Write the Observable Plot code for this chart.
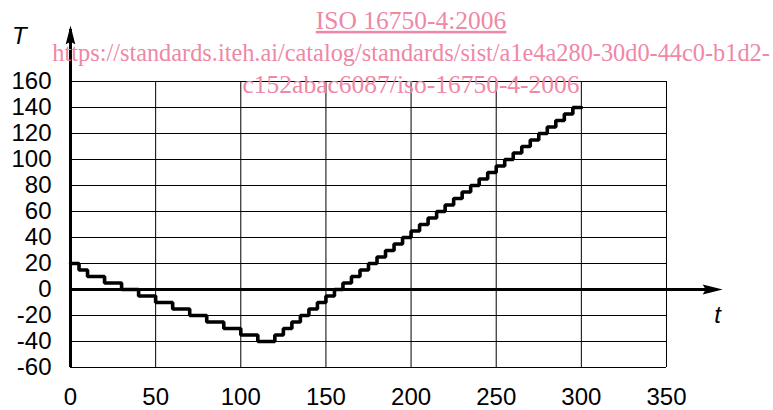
<!DOCTYPE html>
<html>
<head>
<meta charset="utf-8">
<script src="https://cdn.jsdelivr.net/npm/d3@7"></script>
<script src="https://cdn.jsdelivr.net/npm/@observablehq/plot@0.6"></script>
<style>
  html, body { margin: 0; padding: 0; background: #fff; }
  #chart { width: 773px; height: 410px; }
</style>
</head>
<body>
<div id="chart"></div>
<script>
// ---- data ----
const stepTimes = [0, 5, 10, 20, 30, 40, 50, 60, 70, 80, 90, 100, 110, 120, 125, 130, 135, 140, 145, 150, 155, 160, 165, 170, 175, 180, 185, 190, 195, 200, 205, 210, 215, 220, 225, 230, 235, 240, 245, 250, 255, 260, 265, 270, 275, 280, 285, 290, 295, 300];
const stepTemps = [20, 15, 10, 5, 0, -5, -10, -15, -20, -25, -30, -35, -40, -35, -30, -25, -20, -15, -10, -5, 0, 5, 10, 15, 20, 25, 30, 35, 40, 45, 50, 55, 60, 65, 70, 75, 80, 85, 90, 95, 100, 105, 110, 115, 120, 125, 130, 135, 140, 140];

const xTicks = [0, 50, 100, 150, 200, 250, 300, 350];
const yTicks = [-60, -40, -20, 0, 20, 40, 60, 80, 100, 120, 140, 160];

const xAxisEnd = 383;   // tip of the t-axis arrow (data units)
const yAxisEnd = 203;   // tip of the T-axis arrow (data units)

const axisNames = ["T", "t"];
const axisNameX = [-30, 380];
const axisNameY = [189, -26];

const watermarkLines = [
  "ISO 16750-4:2006",
  "https://standards.iteh.ai/catalog/standards/sist/a1e4a280-30d0-44c0-b1d2-",
  "c152abac6087/iso-16750-4-2006"
];
const watermarkX = [200, 200, 200];
const watermarkY = [200.5, 176, 151.5];

// ---- build tables ----
const steps = stepTimes.map((t, i) => ({t, T: stepTemps[i]}));
const names = axisNames.map((s, i) => ({s, x: axisNameX[i], y: axisNameY[i]}));
const marks = watermarkLines.map((s, i) => ({s, x: watermarkX[i], y: watermarkY[i]}));

// arrowhead symbols (tip at origin)
const arrowUp = {
  draw(ctx) {
    ctx.moveTo(0, 0);
    ctx.lineTo(-4.8, 19);
    ctx.lineTo(0, 16);
    ctx.lineTo(4.8, 19);
    ctx.closePath();
  }
};
const arrowRight = {
  draw(ctx) {
    ctx.moveTo(0, 0);
    ctx.lineTo(-20, -5);
    ctx.lineTo(-17, 0);
    ctx.lineTo(-20, 5);
    ctx.closePath();
  }
};

const sans = "'Liberation Sans', Arial, Helvetica, sans-serif";

const chart = Plot.plot({
  width: 773,
  height: 410,
  marginLeft: 70,
  marginRight: 107,
  marginTop: 81,
  marginBottom: 43,
  style: {fontFamily: sans, background: "white", color: "black", overflow: "visible"},
  x: {domain: [0, 350]},
  y: {domain: [-60, 160]},
  marks: [
    Plot.gridX(xTicks, {stroke: "black", strokeOpacity: 1, strokeWidth: 1}),
    Plot.gridY(yTicks, {stroke: "black", strokeOpacity: 1, strokeWidth: 1}),
    Plot.axisX(xTicks, {tickSize: 0, tickPadding: 20, fontSize: 24, label: null, tickFormat: d => String(d)}),
    Plot.axisY(yTicks, {tickSize: 0, tickPadding: 19, fontSize: 24, label: null, tickFormat: d => String(d)}),
    Plot.ruleY([0], {x1: 0, x2: xAxisEnd - 3, stroke: "black", strokeWidth: 3}),
    Plot.ruleX([0], {y1: -60, y2: yAxisEnd - 3, stroke: "black", strokeWidth: 3}),
    Plot.dot([{x: 0, y: yAxisEnd}], {x: "x", y: "y", symbol: arrowUp, fill: "black", stroke: "none"}),
    Plot.dot([{x: xAxisEnd, y: 0}], {x: "x", y: "y", symbol: arrowRight, fill: "black", stroke: "none"}),
    Plot.line(steps, {x: "t", y: "T", curve: "step-after", stroke: "black", strokeWidth: 3.6, strokeLinejoin: "miter"}),
    Plot.text(names, {x: "x", y: "y", text: "s", fontSize: 24, fontStyle: "italic", fill: "black", lineAnchor: "bottom", fontFamily: sans}),
    Plot.text(marks, {x: "x", y: "y", text: "s", fontSize: 25.5, fill: "#ef87a6", lineAnchor: "bottom", fontFamily: "'Liberation Serif', 'Times New Roman', serif"})
  ]
});

document.getElementById("chart").appendChild(chart);

const wm = d3.select(chart).selectAll("text");
wm.filter(function() { return this.textContent === watermarkLines[0]; })
  .style("text-decoration", "underline");
wm.filter(function() { return this.textContent === watermarkLines[1]; })
  .each(function() {
    const L = this.getComputedTextLength();
    if (L > 0) d3.select(this).attr("font-size", (25.5 * 718 / L).toFixed(2));
  });
</script>
</body>
</html>
